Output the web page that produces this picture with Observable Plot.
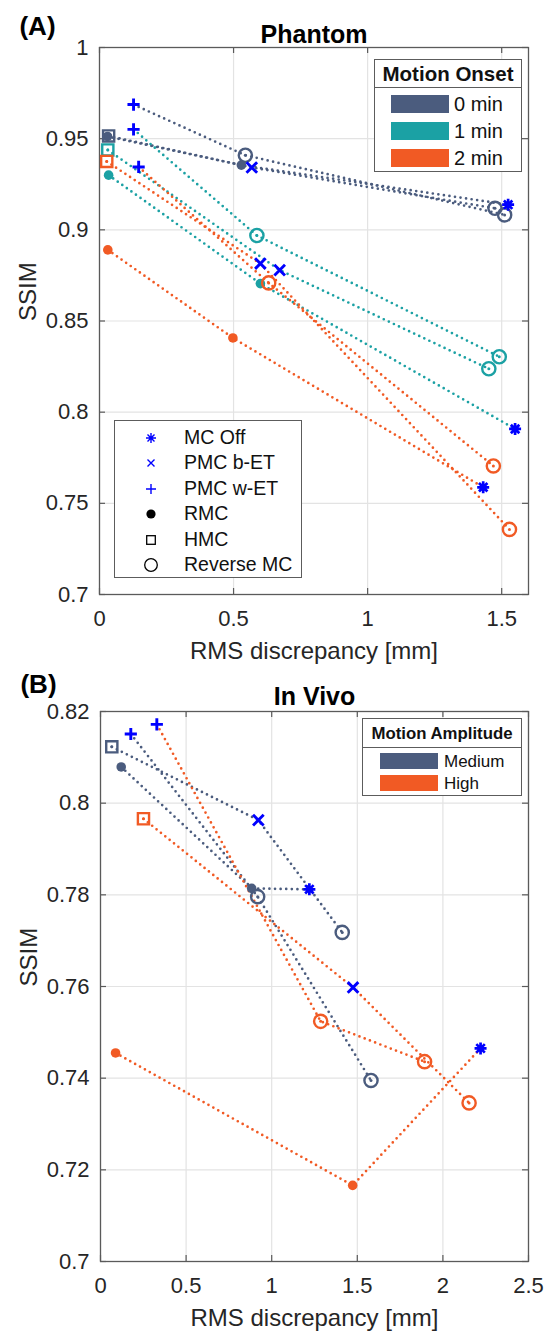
<!DOCTYPE html>
<html><head><meta charset="utf-8">
<script src="https://cdn.jsdelivr.net/npm/d3@7"></script>
<script src="https://cdn.jsdelivr.net/npm/@observablehq/plot@0.6"></script>
<style>
body{margin:0;background:#fff;font-family:"Liberation Sans",Arial,sans-serif;}
#root{position:relative;width:547px;height:1332px;overflow:hidden;background:#fff;}
.panel{position:absolute;left:0;}
.legend{position:absolute;background:#fff;border:1.4px solid #5c5c5c;box-sizing:border-box;color:#111;}
.lg-abs{position:absolute;white-space:nowrap;transform:translateY(-50%);line-height:1;}
.lg-sep{position:absolute;left:0;right:0;height:0;border-top:1.4px solid #5c5c5c;}
</style></head><body><div id="root"></div>
<script>
// ---------------- data ----------------
const methodNames = ["MC Off","PMC b-ET","PMC w-ET","RMC","HMC","Reverse MC"];

const onsetGroups = ["0 min","1 min","2 min"];
const onsetColors = ["#4b5c7e","#1ba1a4","#f15a24"];
const amplitudeGroups = ["Medium","High"];
const amplitudeColors = ["#4b5c7e","#f15a24"];

const xTicksA = [0,0.5,1,1.5];
const yTicksA = [0.7,0.75,0.8,0.85,0.9,0.95,1];
const xTicksB = [0,0.5,1,1.5,2,2.5];
const yTicksB = [0.7,0.72,0.74,0.76,0.78,0.8,0.82];

// Panel A (Phantom): every polyline has three vertices
const phantomGroup = [
  "0 min","0 min","0 min","0 min","0 min","0 min","0 min","0 min","0 min",
  "1 min","1 min","1 min","1 min","1 min","1 min","1 min","1 min","1 min",
  "2 min","2 min","2 min","2 min","2 min","2 min","2 min","2 min","2 min"];
const phantomLine = [
  "RMC","RMC","RMC","HMC","HMC","HMC","PMC","PMC","PMC",
  "RMC","RMC","RMC","HMC","HMC","HMC","PMC","PMC","PMC",
  "RMC","RMC","RMC","HMC","HMC","HMC","PMC","PMC","PMC"];
const phantomMethod = [
  "RMC","RMC","MC Off","HMC","PMC b-ET","Reverse MC","PMC w-ET","Reverse MC","Reverse MC",
  "RMC","RMC","MC Off","HMC","PMC b-ET","Reverse MC","PMC w-ET","Reverse MC","Reverse MC",
  "RMC","RMC","MC Off","HMC","PMC b-ET","Reverse MC","PMC w-ET","Reverse MC","Reverse MC"];
const phantomRms = [
  0.030,0.529,1.524, 0.034,0.568,1.475, 0.127,0.544,1.511,
  0.034,0.600,1.550, 0.031,0.672,1.452, 0.127,0.587,1.491,
  0.031,0.4975,1.431, 0.027,0.600,1.529, 0.146,0.631,1.469];
const phantomSsim = [
  0.9512,0.9355,0.9138, 0.9515,0.9342,0.9118, 0.9687,0.9409,0.9082,
  0.9300,0.8705,0.7908, 0.9438,0.8779,0.8238, 0.9551,0.8969,0.8304,
  0.8890,0.8407,0.7588, 0.9375,0.8815,0.7357, 0.9345,0.8709,0.7705];

// Panel B (In Vivo)
const vivoGroup = [
  "Medium","Medium","Medium","Medium","Medium","Medium","Medium","Medium","Medium",
  "High","High","High","High","High","High","High","High","High"];
const vivoLine = [
  "RMC","RMC","RMC","HMC","HMC","HMC","PMC","PMC","PMC",
  "RMC","RMC","RMC","HMC","HMC","HMC","PMC","PMC","PMC"];
const vivoMethod = [
  "RMC","RMC","MC Off","HMC","PMC b-ET","Reverse MC","PMC w-ET","Reverse MC","Reverse MC",
  "RMC","RMC","MC Off","HMC","PMC b-ET","Reverse MC","PMC w-ET","Reverse MC","Reverse MC"];
const vivoRms = [
  0.121,0.883,1.220, 0.066,0.922,1.412, 0.177,0.918,1.580,
  0.088,1.473,2.220, 0.251,1.475,2.153, 0.329,1.286,1.893];
const vivoSsim = [
  0.8079,0.7814,0.7812, 0.8123,0.7963,0.7718, 0.8151,0.7796,0.7395,
  0.7455,0.7166,0.7465, 0.7966,0.7598,0.7346, 0.8172,0.7524,0.7436];

// ---------------- drawing ----------------
const FONT = '"Liberation Sans", Arial, Helvetica, sans-serif';
const BLUE = "#0000ff";
const AXC = "#5a5a5a";
const fmt = d => String(+(+d).toFixed(2));

const asterisk8 = {
  draw(ctx, size) {
    const r = Math.sqrt(size / Math.PI);
    for (let k = 0; k < 4; k++) {
      const a = k * Math.PI / 4;
      ctx.moveTo(r * Math.cos(a), r * Math.sin(a));
      ctx.lineTo(-r * Math.cos(a), -r * Math.sin(a));
    }
  }
};

function panel(cfg) {
  const W = 547, H = 666;
  const innerW = W - cfg.ml - cfg.mr, innerH = H - cfg.mt - cfg.mb;
  const rows = cfg.rms.map((x, i) => ({
    x, y: cfg.ssim[i], group: cfg.group[i],
    series: cfg.group[i] + "|" + cfg.line[i], method: cfg.method[i]
  }));
  const by = m => rows.filter(d => d.method === m);
  return Plot.plot({
    width: W, height: H,
    marginLeft: cfg.ml, marginRight: cfg.mr, marginTop: cfg.mt, marginBottom: cfg.mb,
    style: {fontFamily: FONT, fontSize: "22px", color: "#262626", background: "transparent", overflow: "visible"},
    x: {domain: cfg.xDomain, axis: null},
    y: {domain: cfg.yDomain, axis: null},
    color: {domain: cfg.groups, range: cfg.colors},
    marks: [
      Plot.gridX(cfg.xTicks, {x: d => d, stroke: "#e3e3e3", strokeOpacity: 1, strokeWidth: 1.2}),
      Plot.gridY(cfg.yTicks, {y: d => d, stroke: "#e3e3e3", strokeOpacity: 1, strokeWidth: 1.2}),
      Plot.axisX({ticks: cfg.xTicks, label: null, tickSize: 0, tickPadding: 16, tickFormat: fmt, fontSize: 22, fill: "#262626"}),
      Plot.axisY({ticks: cfg.yTicks, label: null, tickSize: 0, tickPadding: 11, tickFormat: fmt, fontSize: 22, fill: "#262626"}),
      Plot.tickY(cfg.yTicks, {y: d => d, insetRight: innerW - 6, stroke: AXC, strokeWidth: 1.2}),
      Plot.tickY(cfg.yTicks, {y: d => d, insetLeft: innerW - 6, stroke: AXC, strokeWidth: 1.2}),
      Plot.tickX(cfg.xTicks, {x: d => d, insetTop: innerH - 6, stroke: AXC, strokeWidth: 1.2}),
      Plot.tickX(cfg.xTicks, {x: d => d, insetBottom: innerH - 6, stroke: AXC, strokeWidth: 1.2}),
      Plot.frame({stroke: AXC, strokeWidth: 1.3}),
      Plot.line(rows, {x: "x", y: "y", z: "series", stroke: "group", strokeWidth: 2.7,
        strokeDasharray: "0 5.6", strokeLinecap: "round"}),
      Plot.dot(by("RMC"), {x: "x", y: "y", r: 4.8, fill: "group", stroke: "none"}),
      Plot.dot(by("HMC"), {x: "x", y: "y", symbol: "square", r: 6.3, stroke: "group", fill: "none", strokeWidth: 2.4}),
      Plot.dot(by("Reverse MC"), {x: "x", y: "y", r: 6.6, stroke: "group", fill: "none", strokeWidth: 2.4}),
      Plot.dot(rows.filter(d => d.method === "HMC" || d.method === "Reverse MC"),
        {x: "x", y: "y", r: 1.5, fill: "group", stroke: "none"}),
      Plot.dot(by("PMC w-ET"), {x: "x", y: "y", symbol: "plus", r: 4.0, stroke: BLUE, fill: "none", strokeWidth: 2.9}),
      Plot.dot(by("PMC b-ET"), {x: "x", y: "y", symbol: "times", r: 4.9, stroke: BLUE, fill: "none", strokeWidth: 2.9}),
      Plot.dot(by("MC Off"), {x: "x", y: "y", symbol: asterisk8, r: 6, stroke: BLUE, fill: "none", strokeWidth: 2.7}),
      Plot.text([cfg.xLabel], {frameAnchor: "bottom", lineAnchor: "middle", dy: 57, fontSize: 24, fill: "#262626"}),
      Plot.text([cfg.yLabel], {frameAnchor: "left", lineAnchor: "middle", dx: -71, rotate: -90, fontSize: 24, fill: "#262626"}),
      Plot.text([cfg.title], {frameAnchor: "top", lineAnchor: "middle", dy: cfg.titleDy, fontSize: 25, fontWeight: "bold", fill: "#000"}),
      Plot.text([cfg.tag], {frameAnchor: "top-left", lineAnchor: "middle", dx: -62, dy: cfg.tagDy, fontSize: 26, fontWeight: "bold", textAnchor: "middle", fill: "#000"})
    ]
  });
}

const root = document.getElementById("root");

const svgA = panel({
  ml: 99, mr: 19, mt: 47, mb: 72,
  xDomain: [0, 1.6], yDomain: [0.7, 1], xTicks: xTicksA, yTicks: yTicksA,
  groups: onsetGroups, colors: onsetColors,
  group: phantomGroup, line: phantomLine, method: phantomMethod, rms: phantomRms, ssim: phantomSsim,
  xLabel: "RMS discrepancy [mm]", yLabel: "SSIM", title: "Phantom", tag: "(A)", titleDy: -13, tagDy: -21
});
svgA.classList.add("panel"); svgA.style.top = "0px";
root.appendChild(svgA);

const svgB = panel({
  ml: 100, mr: 19, mt: 45, mb: 71,
  xDomain: [0, 2.5], yDomain: [0.7, 0.82], xTicks: xTicksB, yTicks: yTicksB,
  groups: amplitudeGroups, colors: amplitudeColors,
  group: vivoGroup, line: vivoLine, method: vivoMethod, rms: vivoRms, ssim: vivoSsim,
  xLabel: "RMS discrepancy [mm]", yLabel: "SSIM", title: "In Vivo", tag: "(B)", titleDy: -15, tagDy: -27
});
svgB.classList.add("panel"); svgB.style.top = "666px";
root.appendChild(svgB);

// ---------------- legends (HTML overlays) ----------------
function el(parent, css, html) {
  const d = document.createElement("div");
  Object.assign(d.style, css);
  if (html != null) d.innerHTML = html;
  parent.appendChild(d);
  return d;
}

function colorLegend(box, title, labels, colors, o) {
  const L = el(root, {left: box.left + "px", top: box.top + "px", width: box.width + "px", height: box.height + "px"});
  L.className = "legend";
  const t = el(L, {left: "0", right: "0", top: o.titleY + "px", textAlign: "center", fontWeight: "bold", fontSize: o.titleSize + "px"}, title);
  t.className = "lg-abs";
  const s = el(L, {top: o.sepY + "px"}); s.className = "lg-sep";
  labels.forEach((lab, i) => {
    const y = o.firstY + i * o.stepY;
    const sw = el(L, {left: o.swX + "px", top: y + "px", width: o.swW + "px", height: o.swH + "px", background: colors[i]});
    sw.className = "lg-abs";
    const tx = el(L, {left: o.txX + "px", top: y + "px", fontSize: o.textSize + "px"}, lab);
    tx.className = "lg-abs";
  });
}

colorLegend({left: 374, top: 59, width: 148, height: 113}, "Motion Onset", onsetGroups, onsetColors,
  {titleY: 14, titleSize: 20.5, sepY: 27, firstY: 44, stepY: 27, swX: 16, swW: 58, swH: 18, txX: 79, textSize: 20});
colorLegend({left: 362, top: 718, width: 160, height: 78}, "Motion Amplitude", amplitudeGroups, amplitudeColors,
  {titleY: 15, titleSize: 16.8, sepY: 28, firstY: 42, stepY: 22, swX: 17, swW: 58, swH: 16, txX: 81, textSize: 17});

// marker legend
const markerSvg = {
  "MC Off": '<g stroke="#0000ff" stroke-width="1.4"><path d="M-5,0H5M0,-5V5M-3.5,-3.5L3.5,3.5M-3.5,3.5L3.5,-3.5"/></g>',
  "PMC b-ET": '<path d="M-3.5,-3.5L3.5,3.5M-3.5,3.5L3.5,-3.5" stroke="#0000ff" stroke-width="1.4"/>',
  "PMC w-ET": '<path d="M-5,0H5M0,-5V5" stroke="#0000ff" stroke-width="1.4"/>',
  "RMC": '<circle r="4.6" fill="#000"/>',
  "HMC": '<rect x="-4.3" y="-4.3" width="8.6" height="8.6" fill="none" stroke="#000" stroke-width="1.3"/>',
  "Reverse MC": '<circle r="6.3" fill="none" stroke="#000" stroke-width="1.3"/>'
};
const ML = el(root, {left: "114px", top: "420px", width: "188px", height: "158px"});
ML.className = "legend";
methodNames.forEach((m, i) => {
  const y = 17 + i * 25.4;
  const mk = el(ML, {left: "26px", top: y + "px", width: "20px", height: "20px"},
    '<svg width="20" height="20" viewBox="-10 -10 20 20">' + markerSvg[m] + '</svg>');
  mk.className = "lg-abs";
  const tx = el(ML, {left: "69px", top: y + "px", fontSize: "19.5px"}, m);
  tx.className = "lg-abs";
});
</script></body></html>
